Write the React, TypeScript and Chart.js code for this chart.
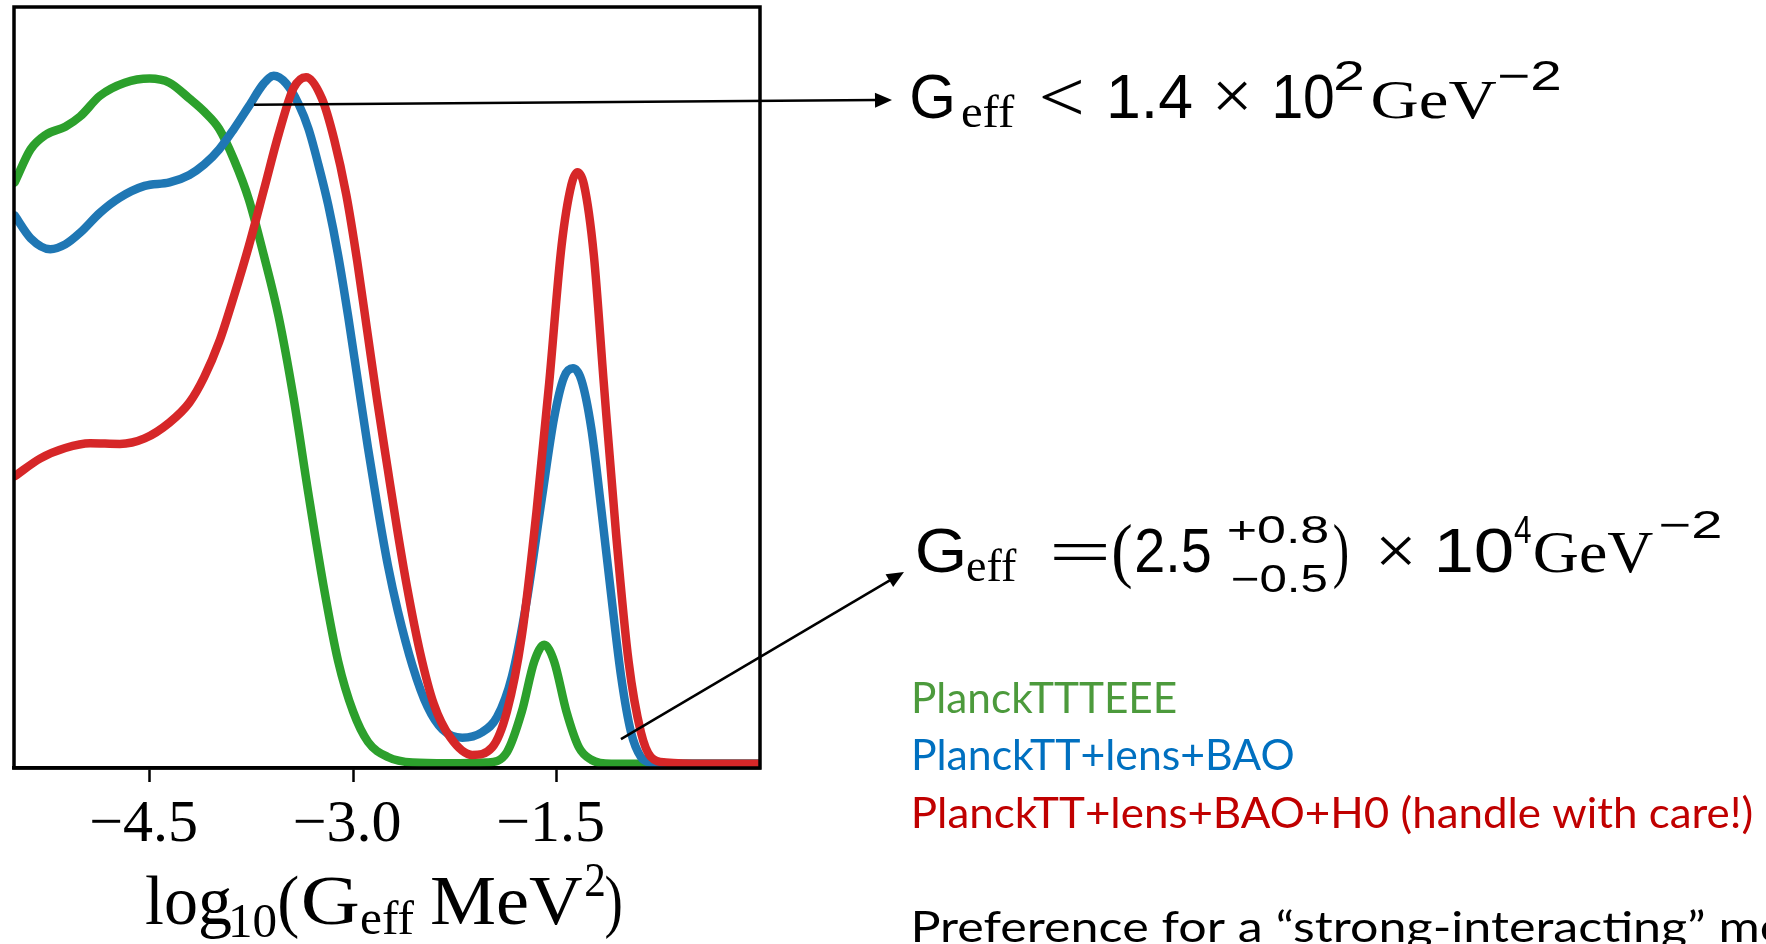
import React, { useEffect, useRef } from 'react';
import { Chart, registerables } from 'chart.js';

Chart.register(...registerables);

// ---- data ----
const greenX = [-5.495, -5.378, -5.268, -5.122, -5.012, -4.866, -4.683, -4.5, -4.354, -4.207, -4.098, -3.988, -3.878, -3.768, -3.658, -3.549, -3.439, -3.329, -3.219, -3.11, -3.0, -2.89, -2.744, -2.561, -2.305, -2.012, -1.866, -1.756, -1.664, -1.591, -1.518, -1.427, -1.335, -1.244, -1.097, -0.5, 0];
const greenY = [0.845, 0.893, 0.914, 0.926, 0.941, 0.971, 0.99, 0.996, 0.99, 0.967, 0.948, 0.923, 0.878, 0.82, 0.739, 0.65, 0.532, 0.392, 0.26, 0.149, 0.076, 0.032, 0.01, 0.002, 0.001, 0.002, 0.017, 0.076, 0.149, 0.173, 0.149, 0.076, 0.024, 0.006, 0, 0, 0];

const blueX = [-5.495, -5.378, -5.232, -5.122, -5.012, -4.866, -4.72, -4.537, -4.354, -4.207, -4.098, -3.988, -3.878, -3.768, -3.658, -3.585, -3.494, -3.402, -3.329, -3.256, -3.183, -3.11, -3.036, -2.963, -2.89, -2.817, -2.744, -2.671, -2.561, -2.451, -2.341, -2.195, -2.049, -1.939, -1.829, -1.719, -1.609, -1.518, -1.445, -1.379, -1.317, -1.244, -1.17, -1.097, -1.024, -0.951, -0.878, -0.804, -0.6, 0];
const blueY = [0.797, 0.764, 0.748, 0.755, 0.772, 0.801, 0.823, 0.84, 0.845, 0.856, 0.871, 0.893, 0.923, 0.956, 0.989, 1.0, 0.989, 0.959, 0.923, 0.871, 0.812, 0.739, 0.65, 0.554, 0.459, 0.37, 0.289, 0.223, 0.142, 0.083, 0.05, 0.038, 0.046, 0.068, 0.127, 0.238, 0.385, 0.503, 0.562, 0.575, 0.558, 0.488, 0.37, 0.245, 0.127, 0.046, 0.01, 0.002, 0, 0];

const redX = [-5.495, -5.305, -5.122, -4.939, -4.72, -4.537, -4.354, -4.207, -4.098, -3.988, -3.878, -3.768, -3.658, -3.549, -3.439, -3.347, -3.23, -3.14, -3.05, -2.97, -2.895, -2.82, -2.745, -2.675, -2.605, -2.505, -2.405, -2.285, -2.122, -1.975, -1.866, -1.756, -1.646, -1.554, -1.463, -1.39, -1.346, -1.298, -1.225, -1.152, -1.061, -0.969, -0.878, -0.804, -0.695, -0.4, 0];
const redY = [0.418, 0.444, 0.459, 0.466, 0.465, 0.473, 0.496, 0.525, 0.562, 0.613, 0.68, 0.753, 0.834, 0.915, 0.982, 0.998, 0.967, 0.908, 0.827, 0.731, 0.628, 0.525, 0.429, 0.341, 0.26, 0.161, 0.087, 0.039, 0.013, 0.024, 0.076, 0.186, 0.37, 0.554, 0.753, 0.842, 0.86, 0.842, 0.739, 0.554, 0.334, 0.149, 0.046, 0.01, 0.002, 0, 0];

const xTicks = [-4.5, -3.0, -1.5];
const seriesLabels = ['PlanckTTTEEE', 'PlanckTT+lens+BAO', 'PlanckTT+lens+BAO+H0 (handle with care!)'];
const lineColors = ['#2ca02c', '#1f77b4', '#d62728'];
const legendColors = ['#4c9a3c', '#0070c0', '#c00000'];
const noteText = 'Preference for a \u201cstrong-interacting\u201d mode';
const notePrefix = 'Preference for a \u201cstrong-interacting\u201d ';

// arrow tails in data coordinates
const arrowTails = [
  { x: -3.73, y: 0.958 },
  { x: -1.025, y: 0.036 },
];

// ---- layout (pixels) ----
const W = 1766;
const H = 944;
const SANS = '"Liberation Sans"';
const SERIF = '"Liberation Serif"';

type Run = { t: string; f: string; s: number; x: number; y: number; w: number };

// x = left edge of ink, w = ink width, y = baseline
const formula1: Run[] = [
  { t: 'G', f: SANS, s: 63, x: 912, y: 118, w: 40 },
  { t: 'eff', f: SERIF, s: 46, x: 962, y: 127, w: 53 },
  { t: '<', f: SERIF, s: 72, x: 1042, y: 121, w: 40 },
  { t: '1.4', f: SANS, s: 63, x: 1110, y: 118, w: 82 },
  { t: '\u00d7', f: SERIF, s: 70, x: 1217, y: 119, w: 31 },
  { t: '10', f: SANS, s: 63, x: 1275, y: 118, w: 58 },
  { t: '2', f: SANS, s: 42, x: 1336, y: 90, w: 27 },
  { t: 'GeV', f: SERIF, s: 55, x: 1373, y: 118, w: 124 },
  { t: '\u22122', f: SANS, s: 42, x: 1500, y: 90, w: 60 },
];

const formula2: Run[] = [
  { t: 'G', f: SANS, s: 63, x: 918, y: 572, w: 45 },
  { t: 'eff', f: SERIF, s: 46, x: 967, y: 581, w: 50 },
  { t: '=', f: SERIF, s: 64, x: 1054, y: 573, w: 52 },
  { t: '(', f: SERIF, s: 72, x: 1114, y: 574, w: 17 },
  { t: '2.5', f: SANS, s: 63, x: 1137, y: 572, w: 73 },
  { t: '+0.8', f: SANS, s: 39, x: 1228, y: 543, w: 99 },
  { t: '\u22120.5', f: SANS, s: 39, x: 1232, y: 592, w: 95 },
  { t: ')', f: SERIF, s: 72, x: 1334, y: 574, w: 13 },
  { t: '\u00d7', f: SERIF, s: 70, x: 1380, y: 574, w: 32 },
  { t: '10', f: SANS, s: 63, x: 1438, y: 572, w: 74 },
  { t: '4', f: SANS, s: 39, x: 1514, y: 543, w: 17 },
  { t: 'GeV', f: SERIF, s: 60, x: 1535, y: 572, w: 118 },
  { t: '\u22122', f: SANS, s: 39, x: 1660, y: 538, w: 60 },
];

const axisTitle: Run[] = [
  { t: 'log', f: SERIF, s: 70, x: 146, y: 924, w: 85 },
  { t: '10', f: SERIF, s: 48, x: 232, y: 937, w: 44 },
  { t: '(', f: SERIF, s: 70, x: 280, y: 924, w: 18 },
  { t: 'G', f: SERIF, s: 70, x: 303, y: 924, w: 55 },
  { t: 'eff', f: SERIF, s: 48, x: 361, y: 934, w: 53 },
  { t: 'MeV', f: SERIF, s: 70, x: 432, y: 924, w: 150 },
  { t: '2', f: SERIF, s: 48, x: 586, y: 896, w: 18 },
  { t: ')', f: SERIF, s: 70, x: 606, y: 924, w: 15 },
];

const legendLayout = [
  { x: 914, y: 713, w: 262 },
  { x: 914, y: 770, w: 379 },
  { x: 914, y: 828, w: 838 },
];

function pts(xs: number[], ys: number[]) {
  return xs.map((x, i) => ({ x, y: ys[i] }));
}

function fmtTick(v: number) {
  return (v < 0 ? '\u2212' : '') + Math.abs(v).toFixed(1);
}

// draw text whose ink box starts at r.x and is r.w wide
function drawRun(ctx: CanvasRenderingContext2D, r: Run, color: string) {
  ctx.save();
  ctx.font = `${r.s}px ${r.f}`;
  ctx.textBaseline = 'alphabetic';
  ctx.textAlign = 'left';
  const m = ctx.measureText(r.t);
  const L = m.actualBoundingBoxLeft || 0;
  const R = m.actualBoundingBoxRight || m.width;
  const ink = Math.max(1, L + R);
  ctx.translate(r.x, r.y);
  ctx.scale(r.w / ink, 1);
  ctx.fillStyle = color;
  ctx.fillText(r.t, L, 0);
  ctx.restore();
}

function drawArrow(ctx: CanvasRenderingContext2D, x1: number, y1: number, x2: number, y2: number) {
  const head = 17;
  const half = 7.5;
  const a = Math.atan2(y2 - y1, x2 - x1);
  const bx = x2 - head * Math.cos(a);
  const by = y2 - head * Math.sin(a);
  ctx.save();
  ctx.strokeStyle = '#000';
  ctx.fillStyle = '#000';
  ctx.lineWidth = 2.5;
  ctx.beginPath();
  ctx.moveTo(x1, y1);
  ctx.lineTo(bx + 2 * Math.cos(a), by + 2 * Math.sin(a));
  ctx.stroke();
  ctx.beginPath();
  ctx.moveTo(x2, y2);
  ctx.lineTo(bx + half * Math.sin(a), by - half * Math.cos(a));
  ctx.lineTo(bx - half * Math.sin(a), by + half * Math.cos(a));
  ctx.closePath();
  ctx.fill();
  ctx.restore();
}

const overlayPlugin = {
  id: 'overlay',
  afterDraw(chart: any) {
    const ctx: CanvasRenderingContext2D = chart.ctx;
    const a = chart.chartArea;
    const xs = chart.scales.x;
    const ys = chart.scales.y;

    // frame
    ctx.save();
    ctx.strokeStyle = '#000';
    ctx.lineWidth = 3.5;
    ctx.strokeRect(a.left, a.top, a.right - a.left, a.bottom - a.top);
    ctx.restore();

    // arrows
    drawArrow(ctx, xs.getPixelForValue(arrowTails[0].x), ys.getPixelForValue(arrowTails[0].y), 892, 100);
    drawArrow(ctx, xs.getPixelForValue(arrowTails[1].x), ys.getPixelForValue(arrowTails[1].y), 904, 572);

    // formulas and axis title
    formula1.forEach((r) => drawRun(ctx, r, '#000'));
    formula2.forEach((r) => drawRun(ctx, r, '#000'));
    axisTitle.forEach((r) => drawRun(ctx, r, '#000'));

    // legend texts
    seriesLabels.forEach((lab, i) => {
      const L = legendLayout[i];
      drawRun(ctx, { t: lab, f: 'Lato', s: 42, x: L.x, y: L.y, w: L.w }, legendColors[i]);
    });

    // note line (runs off the right edge)
    ctx.save();
    ctx.font = '42px Lato';
    const pw = ctx.measureText(notePrefix).width;
    const nm = ctx.measureText(noteText);
    const inkFull = (nm.actualBoundingBoxLeft || 0) + (nm.actualBoundingBoxRight || nm.width);
    ctx.restore();
    drawRun(ctx, { t: noteText, f: 'Lato', s: 42, x: 914, y: 942, w: (inkFull * 808) / pw }, '#000');
  },
};

export default function App() {
  const ref = useRef<HTMLCanvasElement | null>(null);

  useEffect(() => {
    document.body.style.margin = '0';
    const canvas = ref.current;
    if (!canvas) return;
    const chart = new Chart(canvas, {
      type: 'line',
      data: {
        datasets: [
          { label: seriesLabels[2], data: pts(redX, redY), borderColor: lineColors[2], order: 0, clip: 0 } as any,
          { label: seriesLabels[1], data: pts(blueX, blueY), borderColor: lineColors[1], order: 1, clip: 0 } as any,
          { label: seriesLabels[0], data: pts(greenX, greenY), borderColor: lineColors[0], order: 2, clip: 0 } as any,
        ],
      },
      options: {
        responsive: false,
        animation: false,
        devicePixelRatio: 1,
        layout: { padding: { left: 14, top: 7, right: W - 760, bottom: 0 } },
        elements: {
          line: { borderWidth: 8.5, cubicInterpolationMode: 'monotone', borderCapStyle: 'round', borderJoinStyle: 'round', fill: false },
          point: { radius: 0, hoverRadius: 0 },
        },
        plugins: { legend: { display: false }, tooltip: { enabled: false }, title: { display: false } },
        scales: {
          x: {
            type: 'linear',
            position: 'bottom',
            min: -5.5,
            max: 0,
            afterBuildTicks: (s: any) => {
              s.ticks = xTicks.map((v) => ({ value: v }));
            },
            afterFit: (s: any) => {
              s.height = H - 768;
            },
            ticks: {
              callback: (v: any) => fmtTick(Number(v)),
              font: { family: 'Liberation Serif', size: 60 },
              color: '#000',
              padding: 7,
              labelOffset: -6,
              maxRotation: 0,
              autoSkip: false,
            },
            grid: { drawOnChartArea: false, drawTicks: true, tickLength: 14, tickColor: '#000', tickWidth: 2.5, color: '#000' },
            border: { display: true, color: '#000', width: 3.5 },
          },
          y: { display: false, min: -0.006, max: 1.1 },
        },
      } as any,
      plugins: [overlayPlugin],
    });
    return () => chart.destroy();
  }, []);

  return (
    <div style={{ position: 'absolute', left: 0, top: 0, width: W, height: H, background: '#fff', overflow: 'hidden' }}>
      <canvas ref={ref} width={W} height={H} style={{ width: W, height: H, display: 'block' }} />
    </div>
  );
}
